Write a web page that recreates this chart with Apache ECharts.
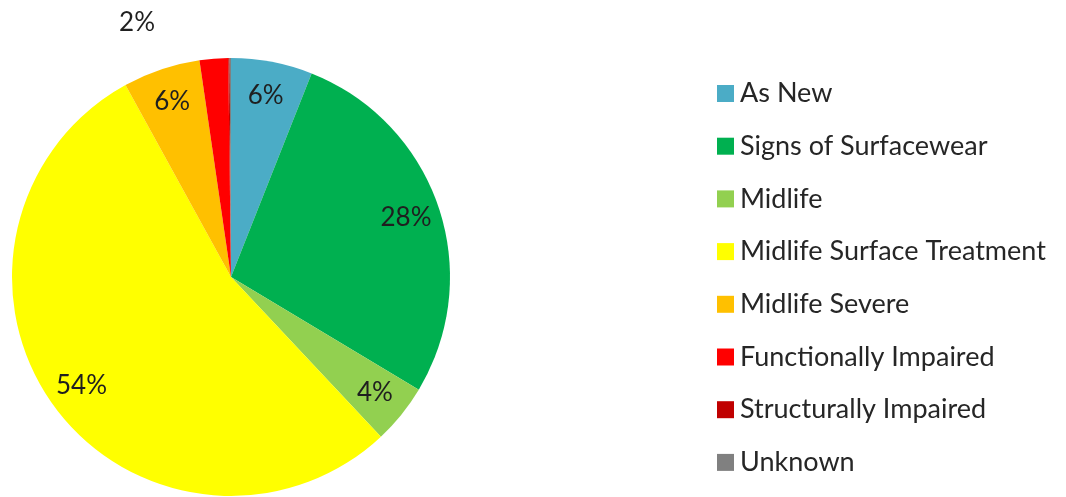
<!DOCTYPE html>
<html>
<head>
<meta charset="utf-8">
<script src="https://cdn.jsdelivr.net/npm/echarts@6/dist/echarts.min.js"></script>
<style>
html,body{margin:0;padding:0;background:#fff;}
#chart{width:1066px;height:497px;}
</style>
</head>
<body>
<div id="chart"></div>
<script>
const categories = ["As New","Signs of Surfacewear","Midlife","Midlife Surface Treatment","Midlife Severe","Functionally Impaired","Structurally Impaired","Unknown"];
const values = [6.0, 27.6, 4.4, 54.0, 5.7, 2.1, 0.1, 0.1];
const colors = ["#4BACC6","#00B050","#92D050","#FFFF00","#FFC000","#FF0000","#C00000","#808080"];
const showLabel = [true,true,true,true,true,true,false,false];

const FONT = "Lato";
const R = 219;
const center = [231, 277];

const baseData = categories.map((c,i)=>({name:c, value:values[i], itemStyle:{color:colors[i]}}));
const labelData = categories.map((c,i)=>{
  const d = {name:c, value:values[i], itemStyle:{color:'rgba(0,0,0,0)'}};
  if (!showLabel[i]) d.label = {show:false};
  if (c === "Functionally Impaired") {
    d.label = {show:true, position:'outside'};
    d.labelLine = {show:false, length:36, length2:51};
  }
  return d;
});

const chart = echarts.init(document.getElementById('chart'), null, {renderer:'canvas'});
chart.setOption({
  animation:false,
  backgroundColor:'#ffffff',
  legend:{
    orient:'vertical',
    left:712, top:75,
    itemWidth:17, itemHeight:17,
    itemGap:25.7,
    icon:'rect',
    data:categories,
    textStyle:{fontFamily:FONT, fontSize:27, color:'#262626', lineHeight:27, padding:[0,0,0,1]},
    selectedMode:false
  },
  series:[
    {
      type:'pie',
      radius:[0,R],
      center:center,
      startAngle:90,
      clockwise:true,
      data:baseData,
      label:{show:false},
      labelLine:{show:false},
      silent:true
    },
    {
      type:'pie',
      radius:[R*0.66,R],
      center:center,
      startAngle:90,
      clockwise:true,
      avoidLabelOverlap:false,
      data:labelData,
      silent:true,
      label:{
        show:true, position:'inside',
        formatter:(p)=>Math.round(p.value)+'%',
        fontFamily:FONT, fontSize:26, color:'#1f1f1f'
      },
      labelLine:{show:false}
    }
  ]
});
</script>
</body>
</html>
